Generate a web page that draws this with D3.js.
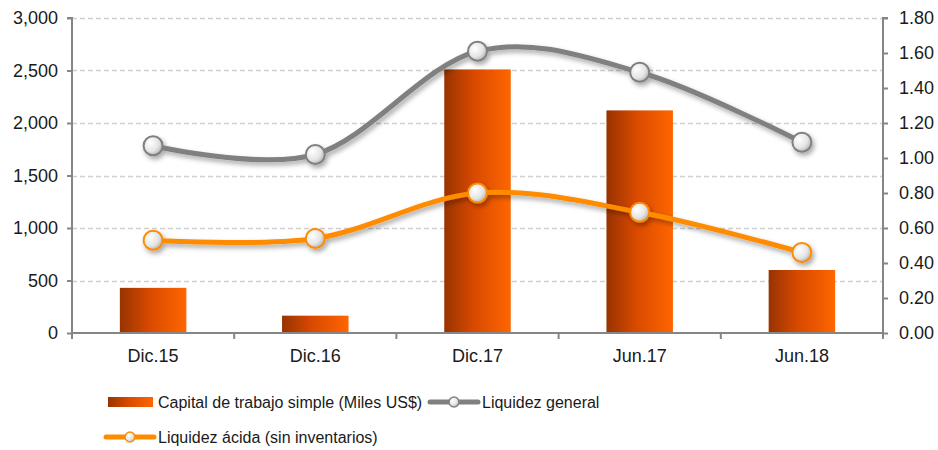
<!DOCTYPE html>
<html>
<head>
<meta charset="utf-8">
<script src="https://cdn.jsdelivr.net/npm/d3@7"></script>
<style>
	body { margin: 0; background: #fff; }
	svg { display: block; font-family: "Liberation Sans", Arial, sans-serif; }
</style>
</head>
<body>
<svg id="chart" width="938" height="450"></svg>
<script>
var categories = ["Dic.15", "Dic.16", "Dic.17", "Jun.17", "Jun.18"];
var capitalTrabajo = [430, 165, 2510, 2120, 600];
var liquidezGeneral = [1.07, 1.02, 1.61, 1.49, 1.09];
var liquidezAcida = [0.53, 0.54, 0.80, 0.69, 0.46];
var leftTicks = [0, 500, 1000, 1500, 2000, 2500, 3000];
var rightTicks = [0, 0.2, 0.4, 0.6, 0.8, 1.0, 1.2, 1.4, 1.6, 1.8];

var svg = d3.select('#chart'),
	margin = {left: 72, right: 55, top: 18, bottom: 117},
	width = 938 - margin.left - margin.right,
	height = 450 - margin.top - margin.bottom;

var x = d3.scaleBand().domain(categories).range([0, width]).paddingInner(0.59).paddingOuter(0.295);
var xc = d3.scaleBand().domain(categories).range([0, width]);
var yLeft = d3.scaleLinear().domain([0, 3000]).range([height, 0]);
var yRight = d3.scaleLinear().domain([0, 1.8]).range([height, 0]);

var defs = svg.append('defs');
var barGrad = defs.append('linearGradient').attr('id', 'barGrad').attr('x1', 0).attr('x2', 1).attr('y1', 0).attr('y2', 0);
barGrad.append('stop').attr('offset', '0%').attr('stop-color', '#983300');
barGrad.append('stop').attr('offset', '45%').attr('stop-color', '#d94a00');
barGrad.append('stop').attr('offset', '100%').attr('stop-color', '#ff6600');

var dotGrad = defs.append('radialGradient').attr('id', 'dotGrad').attr('cx', '35%').attr('cy', '35%').attr('r', '75%');
dotGrad.append('stop').attr('offset', '0%').attr('stop-color', '#ffffff');
dotGrad.append('stop').attr('offset', '60%').attr('stop-color', '#e4e4e4');
dotGrad.append('stop').attr('offset', '100%').attr('stop-color', '#a8a8a8');

var shadow = defs.append('filter').attr('id', 'shadow').attr('x', '-30%').attr('y', '-60%').attr('width', '160%').attr('height', '220%');
shadow.append('feDropShadow').attr('dx', 2).attr('dy', 3).attr('stdDeviation', 2.5).attr('flood-color', '#000').attr('flood-opacity', 0.35);

var g = svg.append('g').attr('transform', 'translate(' + margin.left + ',' + margin.top + ')');

// gridlines
g.append('g').selectAll('line')
	.data(leftTicks.slice(1)).enter().append('line')
	.attr('x1', 0).attr('x2', width)
	.attr('y1', function(d) { return Math.round(yLeft(d)) + 0.5; })
	.attr('y2', function(d) { return Math.round(yLeft(d)) + 0.5; })
	.attr('stroke', '#d0d0d0').attr('stroke-width', 1.5).attr('stroke-dasharray', '5,3');

// bars
g.append('g').selectAll('rect')
	.data(capitalTrabajo).enter().append('rect')
	.attr('x', function(d, i) { return x(categories[i]); })
	.attr('y', function(d) { return yLeft(d); })
	.attr('width', x.bandwidth())
	.attr('height', function(d) { return height - yLeft(d); })
	.attr('fill', 'url(#barGrad)');

// axes
var axisColor = '#868686';
var leftAxis = g.append('g').call(d3.axisLeft(yLeft).tickValues(leftTicks).tickSize(5).tickPadding(9).tickFormat(d3.format(',')));
var rightAxis = g.append('g').attr('transform', 'translate(' + width + ',0)')
	.call(d3.axisRight(yRight).tickValues(rightTicks).tickSize(5).tickPadding(11).tickFormat(d3.format('.2f')));
var bottomAxis = g.append('g').attr('transform', 'translate(0,' + height + ')')
	.call(d3.axisBottom(xc).tickSize(0).tickPadding(16));

[leftAxis, rightAxis, bottomAxis].forEach(function(a) {
	a.select('.domain').attr('stroke', axisColor).attr('stroke-width', 2);
	a.selectAll('line').attr('stroke', axisColor).attr('stroke-width', 2);
	a.selectAll('text').attr('fill', '#1a1a1a').style('font-size', '18px').style('font-family', '"Liberation Sans", Arial, sans-serif');
});
bottomAxis.select('.domain').attr('d', 'M0,0H' + width);
leftAxis.select('.domain').attr('d', 'M-5,0H0V' + height);
rightAxis.select('.domain').attr('d', 'M5,0H0V' + height);

// category separator ticks
bottomAxis.append('g').selectAll('line')
	.data(d3.range(categories.length + 1)).enter().append('line')
	.attr('x1', function(i) { return i * xc.step(); })
	.attr('x2', function(i) { return i * xc.step(); })
	.attr('y1', 0).attr('y2', 6)
	.attr('stroke', axisColor).attr('stroke-width', 2);

// lines
var line = d3.line()
	.x(function(d, i) { return xc(categories[i]) + xc.bandwidth() / 2; })
	.y(function(d) { return yRight(d); })
	.curve(d3.curveCatmullRom.alpha(0));

function drawSeries(values, color) {
	var s = g.append('g').attr('filter', 'url(#shadow)');
	s.append('path').datum(values)
		.attr('d', line)
		.attr('fill', 'none')
		.attr('stroke', color)
		.attr('stroke-width', 5)
		.attr('stroke-linecap', 'round');
	s.selectAll('circle').data(values).enter().append('circle')
		.attr('cx', function(d, i) { return xc(categories[i]) + xc.bandwidth() / 2; })
		.attr('cy', function(d) { return yRight(d); })
		.attr('r', 9.5)
		.attr('fill', 'url(#dotGrad)')
		.attr('stroke', color)
		.attr('stroke-width', 2);
}
drawSeries(liquidezGeneral, '#808080');
drawSeries(liquidezAcida, '#ff8c00');

// legend
var legend = svg.append('g').style('font-size', '16px').attr('fill', '#1a1a1a');

legend.append('rect').attr('x', 108).attr('y', 397).attr('width', 45).attr('height', 10).attr('fill', 'url(#barGrad)');
legend.append('text').attr('x', 158).attr('y', 408).text('Capital de trabajo simple (Miles US$)');

function legendLine(x0, y0, color, label) {
	legend.append('line').attr('x1', x0).attr('x2', x0 + 48).attr('y1', y0).attr('y2', y0)
		.attr('stroke', color).attr('stroke-width', 5).attr('stroke-linecap', 'round');
	legend.append('circle').attr('cx', x0 + 24).attr('cy', y0).attr('r', 5)
		.attr('fill', 'url(#dotGrad)').attr('stroke', color).attr('stroke-width', 1.5);
	legend.append('text').attr('x', x0 + 52).attr('y', y0 + 6).text(label);
}
legendLine(430, 402, '#808080', 'Liquidez general');
legendLine(106, 437, '#ff8c00', 'Liquidez ácida (sin inventarios)');
</script>
</body>
</html>
